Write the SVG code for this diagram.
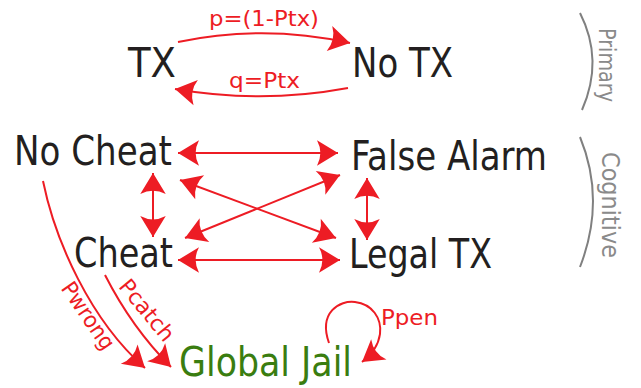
<svg xmlns="http://www.w3.org/2000/svg" width="641" height="388" viewBox="0 0 641 388">
<style>
.big{font-family:"DejaVu Sans Condensed","DejaVu Sans",sans-serif;font-size:41px;fill:#231f20}
.lab{font-family:"DejaVu Sans","DejaVu Sans Condensed",sans-serif;font-size:22px;fill:#ed1c24}
.side{font-family:"DejaVu Sans Condensed","DejaVu Sans",sans-serif;font-size:23px;fill:#8a8a8a}
.e{fill:none;stroke:#ed1c24;stroke-width:2}
.br{fill:none;stroke:#808080;stroke-width:2}
</style>
<defs>
<marker id="ah" markerUnits="userSpaceOnUse" markerWidth="30" markerHeight="30" viewBox="-16 -10 18 20" refX="0" refY="0" orient="auto-start-reverse">
<path d="M0,0 L-14,-8.5 Q-9.5,0 -14,8.5 Z" fill="#ed1c24"/>
</marker>
</defs>
<g id="connectors">
<path class="e" d="M178,42 Q264,24 350,43" marker-end="url(#ah)"/>
<path class="e" d="M348,88 Q262,104 175,89" marker-end="url(#ah)"/>
<path class="e" d="M178,153 L338,153" marker-start="url(#ah)" marker-end="url(#ah)"/>
<path class="e" d="M178,260 L340,260" marker-start="url(#ah)" marker-end="url(#ah)"/>
<path class="e" d="M153,173 L153,237" marker-start="url(#ah)" marker-end="url(#ah)"/>
<path class="e" d="M367,178 L367,240" marker-start="url(#ah)" marker-end="url(#ah)"/>
<path class="e" d="M180,180 L336,238" marker-start="url(#ah)" marker-end="url(#ah)"/>
<path class="e" d="M185,238 L340,175" marker-start="url(#ah)" marker-end="url(#ah)"/>
<path class="e" d="M43,181 C55,240 90,320 145,368" marker-end="url(#ah)"/>
<path class="e" d="M105,275 Q132,328 171,367" marker-end="url(#ah)"/>
<path class="e" d="M329,343 C318,312 340,300 355,302 C372,304 382,318 380,334 C378,348 370,356 362,362" marker-end="url(#ah)"/>
<text class="lab" x="209" y="26" textLength="110" lengthAdjust="spacingAndGlyphs">p=(1-Ptx)</text>
<text class="lab" x="229" y="88" textLength="71" lengthAdjust="spacingAndGlyphs">q=Ptx</text>
<text class="lab" x="381" y="325" textLength="57" lengthAdjust="spacingAndGlyphs">Ppen</text>
<text class="lab" transform="translate(82,320) rotate(55.6)" text-anchor="middle" textLength="77" lengthAdjust="spacingAndGlyphs">Pwrong</text>
<text class="lab" transform="translate(141,315) rotate(50.5)" text-anchor="middle" textLength="73" lengthAdjust="spacingAndGlyphs">Pcatch</text>
</g>
<g id="tx"><text class="big" x="128" y="77" textLength="48" lengthAdjust="spacingAndGlyphs">TX</text></g>
<g id="notx"><text class="big" x="352" y="77" textLength="101" lengthAdjust="spacingAndGlyphs">No TX</text></g>
<g id="nocheat"><text class="big" x="14" y="165" textLength="158" lengthAdjust="spacingAndGlyphs">No Cheat</text></g>
<g id="falsealarm"><text class="big" x="351" y="170" textLength="196" lengthAdjust="spacingAndGlyphs">False Alarm</text></g>
<g id="cheat"><text class="big" x="74" y="267" textLength="99" lengthAdjust="spacingAndGlyphs">Cheat</text></g>
<g id="legaltx"><text class="big" x="349" y="268" textLength="143" lengthAdjust="spacingAndGlyphs">Legal TX</text></g>
<g id="globaljail"><text class="big" x="179" y="376" textLength="173" lengthAdjust="spacingAndGlyphs" style="fill:#3a7d10">Global Jail</text></g>
<g id="primary">
<path class="br" d="M580,13 Q604,60 582,110"/>
<text class="side" transform="translate(599,28) rotate(90)" textLength="74" lengthAdjust="spacingAndGlyphs">Primary</text>
</g>
<g id="cognitive">
<path class="br" d="M580,137 Q606,200 580,267"/>
<text class="side" transform="translate(602,152) rotate(90)" textLength="106" lengthAdjust="spacingAndGlyphs" style="font-size:25px">Cognitive</text>
</g>
</svg>
